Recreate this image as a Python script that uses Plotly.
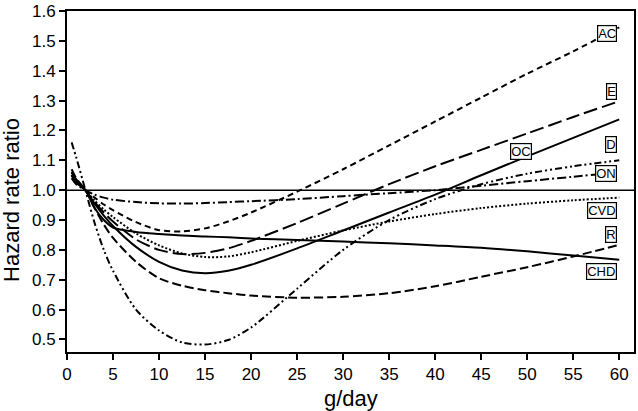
import plotly.graph_objects as go

x = [0.5, 1, 2, 3, 4, 5, 7.5, 10, 12.5, 15, 17.5, 20, 25, 30, 35, 40, 45, 50, 55, 60]

AC  = [1.05, 1.03, 1.0, 0.975, 0.952, 0.933, 0.893, 0.866, 0.862, 0.872, 0.895, 0.925, 0.995, 1.07, 1.15, 1.23, 1.31, 1.39, 1.465, 1.545]
E   = [1.06, 1.035, 1.0, 0.96, 0.925, 0.895, 0.835, 0.8, 0.786, 0.79, 0.805, 0.83, 0.89, 0.955, 1.02, 1.08, 1.135, 1.19, 1.245, 1.298]
D   = [1.06, 1.035, 1.0, 0.955, 0.915, 0.88, 0.81, 0.76, 0.731, 0.722, 0.73, 0.75, 0.805, 0.865, 0.925, 0.985, 1.05, 1.113, 1.175, 1.237]
OC  = [1.16, 1.11, 1.0, 0.89, 0.8, 0.73, 0.6, 0.53, 0.49, 0.483, 0.498, 0.54, 0.67, 0.8, 0.9, 0.97, 1.02, 1.055, 1.08, 1.1]
ON  = [1.04, 1.02, 1.0, 0.985, 0.975, 0.968, 0.96, 0.956, 0.955, 0.957, 0.96, 0.963, 0.97, 0.98, 0.99, 1.0, 1.015, 1.03, 1.045, 1.06]
CVD = [1.05, 1.03, 1.0, 0.965, 0.935, 0.91, 0.855, 0.815, 0.788, 0.776, 0.778, 0.792, 0.83, 0.865, 0.895, 0.92, 0.94, 0.955, 0.966, 0.975]
R   = [1.07, 1.04, 1.0, 0.94, 0.885, 0.84, 0.76, 0.705, 0.68, 0.665, 0.655, 0.647, 0.64, 0.643, 0.655, 0.678, 0.71, 0.742, 0.778, 0.817]
CHD = [1.05, 1.025, 1.0, 0.94, 0.9, 0.875, 0.86, 0.853, 0.848, 0.845, 0.842, 0.838, 0.833, 0.828, 0.822, 0.815, 0.807, 0.795, 0.781, 0.767]

series = [
    ("AC", AC, "6px,4px"),
    ("E", E, "14px,5px"),
    ("D", D, "solid"),
    ("OC", OC, "7px,3px,2px,3px,2px,3px"),
    ("ON", ON, "9px,3px,2px,3px"),
    ("CVD", CVD, "2px,2px"),
    ("R", R, "9px,4px"),
    ("CHD", CHD, "solid"),
]

labels = ["AC", "E", "D", "OC", "ON", "CVD", "R", "CHD"]
label_x = [59.8, 59.8, 59.8, 50.5, 59.8, 59.8, 59.8, 59.8]
label_y = [1.526, 1.331, 1.153, 1.129, 1.056, 0.931, 0.85, 0.729]

fig = go.Figure()
for name, vals, dash in series:
    fig.add_trace(go.Scatter(x=x, y=vals, mode="lines", name=name,
                             line=dict(color="black", width=2, dash=dash, shape="spline", smoothing=0.8),
                             showlegend=False))

fig.add_shape(type="line", xref="paper", yref="y", x0=0, x1=1, y0=1.0, y1=1.0,
              line=dict(color="black", width=1.5))

for t, lx, ly in zip(labels, label_x, label_y):
    fig.add_annotation(x=lx, y=ly, text=t, showarrow=False, xanchor="right", yanchor="middle",
                       font=dict(family="Liberation Sans, Arial", size=13, color="black"),
                       bgcolor="white", bordercolor="black", borderwidth=1.2, borderpad=0)

# axis titles
fig.add_annotation(xref="paper", yref="paper", x=0.5, y=-0.135, text="g/day", showarrow=False,
                   xanchor="center", yanchor="middle",
                   font=dict(family="Liberation Sans, Arial", size=22, color="black"))
fig.add_annotation(xref="paper", yref="paper", x=-0.097, y=0.446, text="Hazard rate ratio", showarrow=False,
                   xanchor="center", yanchor="middle", textangle=-90,
                   font=dict(family="Liberation Sans, Arial", size=22, color="black"))

fig.update_layout(
    width=638, height=411,
    margin=dict(l=67, r=4, t=11, b=59),
    paper_bgcolor="white", plot_bgcolor="white",
    font=dict(family="Liberation Sans, Arial", color="black"),
)
fig.update_xaxes(range=[0, 61.6], tickmode="array", tickvals=list(range(0, 61, 5)),
                 showline=True, linecolor="black", linewidth=2, mirror=True,
                 ticks="outside", ticklen=6, tickwidth=1.5, tickcolor="black",
                 showgrid=False, zeroline=False, tickfont=dict(size=17), automargin=False)
fig.update_yaxes(range=[0.458, 1.6], tickmode="array",
                 tickvals=[0.5, 0.6, 0.7, 0.8, 0.9, 1.0, 1.1, 1.2, 1.3, 1.4, 1.5, 1.6],
                 ticktext=["0.5", "0.6", "0.7", "0.8", "0.9", "1.0", "1.1", "1.2", "1.3", "1.4", "1.5", "1.6"],
                 showline=True, linecolor="black", linewidth=2, mirror=True,
                 ticks="outside", ticklen=6, tickwidth=1.5, tickcolor="black",
                 showgrid=False, zeroline=False, tickfont=dict(size=17), automargin=False)

fig.write_html("out.html", config={"displayModeBar": False},
               post_script="document.body.style.margin='0px';")
